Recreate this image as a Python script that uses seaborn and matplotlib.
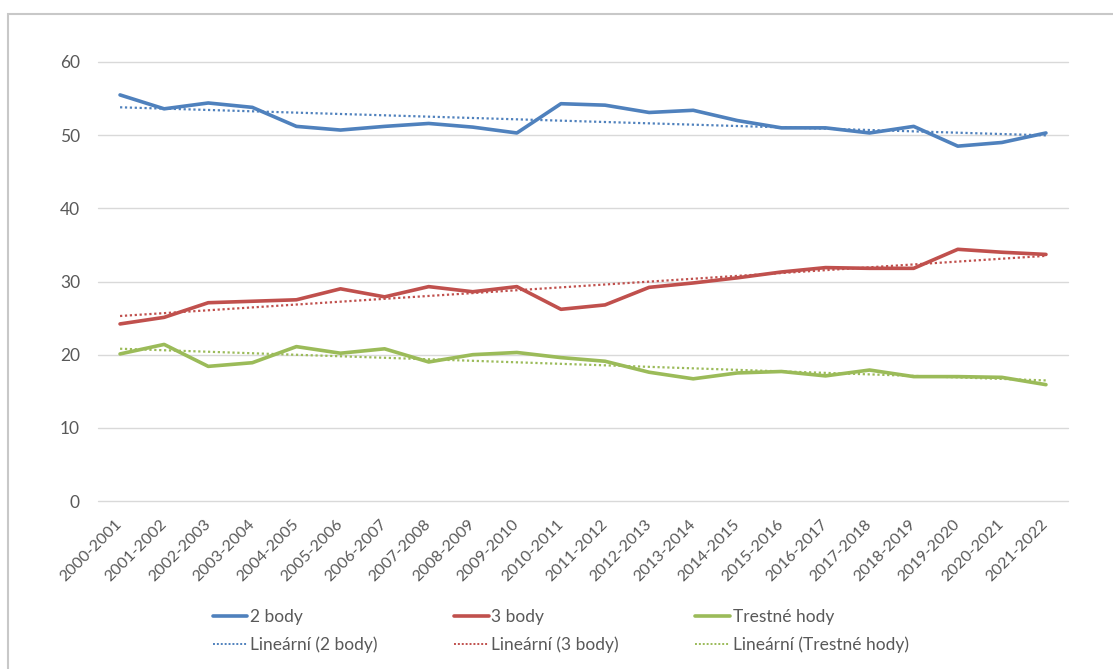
import numpy as np
import pandas as pd
import matplotlib
matplotlib.use("Agg")
import matplotlib.pyplot as plt
import matplotlib.transforms as mtransforms
from matplotlib.lines import Line2D
from matplotlib.patches import Rectangle
import seaborn as sns

seasons = [
    "2000-2001", "2001-2002", "2002-2003", "2003-2004", "2004-2005", "2005-2006",
    "2006-2007", "2007-2008", "2008-2009", "2009-2010", "2010-2011", "2011-2012",
    "2012-2013", "2013-2014", "2014-2015", "2015-2016", "2016-2017", "2017-2018",
    "2018-2019", "2019-2020", "2020-2021", "2021-2022",
]
two_points = [55.5, 53.6, 54.4, 53.8, 51.2, 50.7, 51.2, 51.6, 51.1, 50.3, 54.3,
              54.1, 53.1, 53.4, 52.0, 51.0, 51.0, 50.3, 51.2, 48.5, 49.0, 50.3]
three_points = [24.2, 25.1, 27.1, 27.3, 27.5, 29.0, 27.9, 29.3, 28.6, 29.3, 26.2,
                26.8, 29.2, 29.8, 30.5, 31.3, 31.9, 31.8, 31.8, 34.4, 34.0, 33.7]
free_throws = [20.1, 21.4, 18.4, 18.9, 21.1, 20.2, 20.8, 19.0, 20.0, 20.3, 19.6,
               19.1, 17.6, 16.7, 17.5, 17.7, 17.1, 17.9, 17.0, 17.0, 16.9, 15.9]
series_names = ["2 body", "3 body", "Trestné hody"]
colors = ["#4F81BD", "#C0504D", "#9BBB59"]
y_ticks = [0, 10, 20, 30, 40, 50, 60]

sns.set_theme(style="white")
plt.rcParams["font.family"] = ["Lato", "DejaVu Sans"]

pos = np.arange(len(seasons))
df = pd.DataFrame({
    "pos": np.tile(pos, 3),
    "value": two_points + three_points + free_throws,
    "series": np.repeat(series_names, len(seasons)),
})

fig = plt.figure(figsize=(11.13, 6.69), dpi=100)
ax = fig.add_axes([98 / 1113, 1 - 501 / 669, (1068 - 98) / 1113, (501 - 62) / 669])

# trend lines (least-squares fit per series)
for name, col in zip(series_names, colors):
    sub = df[df["series"] == name]
    sns.regplot(data=sub, x="pos", y="value", ax=ax, scatter=False, ci=None,
                truncate=True, color=col,
                line_kws={"linestyle": (0, (1, 1.2)), "linewidth": 1.6, "zorder": 2})

sns.lineplot(data=df, x="pos", y="value", hue="series", palette=colors,
             hue_order=series_names, linewidth=2.6, ax=ax, legend=False, zorder=3)

ax.set_xlim(-0.5, len(seasons) - 0.5)
ax.set_ylim(0, 60)
ax.set_yticks(y_ticks)
ax.set_xticks(pos)
ax.set_xticklabels(seasons, rotation=45, ha="right", va="center",
                   rotation_mode="anchor", fontsize=11.5, color="#595959")
shift = mtransforms.ScaledTranslation(2 / 100, 0, fig.dpi_scale_trans)
for lab in ax.get_xticklabels():
    lab.set_transform(lab.get_transform() + shift)
ax.tick_params(axis="y", labelsize=12.5, labelcolor="#595959", length=0, pad=13)
ax.tick_params(axis="x", length=0, pad=15)
ax.set_xlabel("")
ax.set_ylabel("")
ax.grid(axis="y", color="#D9D9D9", linewidth=1)
for gl in ax.get_ygridlines():
    gl.set_clip_on(False)
ax.set_axisbelow(True)
for sp in ax.spines.values():
    sp.set_visible(False)

handles = []
for name, col in zip(series_names, colors):
    handles.append(Line2D([], [], color=col, linewidth=2.6, label=name))
    handles.append(Line2D([], [], color=col, linewidth=1.4, linestyle=(0, (1, 1)),
                          label=f"Lineární ({name})"))
leg = fig.legend(handles=handles, ncol=3, loc="center left",
                 bbox_to_anchor=(197 / 1113, 1 - 631 / 669), frameon=False,
                 fontsize=12.5, handlelength=2.0, handletextpad=0.15,
                 columnspacing=4.4, labelspacing=0.7)
for t in leg.get_texts():
    t.set_color("#595959")

# chart frame
fig.patches.append(Rectangle((8 / 1113, -0.05), 1.2, 1 - 14 / 669 + 0.05,
                             transform=fig.transFigure, fill=False,
                             edgecolor="#C8C8C8", linewidth=1.5))

fig.savefig("out.png", dpi=100)
